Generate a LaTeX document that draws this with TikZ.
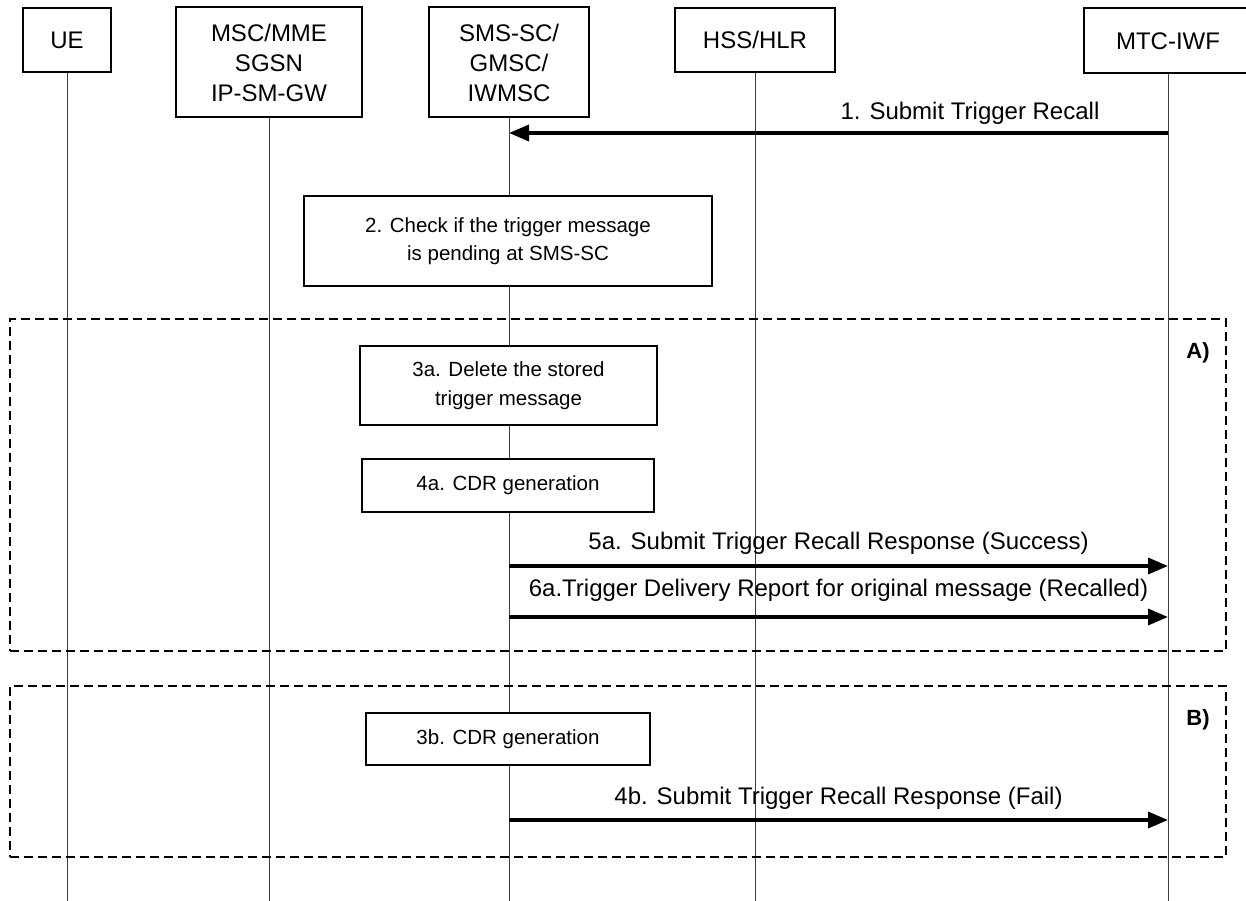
\documentclass[tikz,border=0pt]{standalone}
\usepackage{fontspec}
\setmainfont{Liberation Sans}
\usetikzlibrary{arrows.meta,calc}
\begin{document}
\begin{tikzpicture}[x=1pt,y=-1pt,
  hdr/.style={draw,line width=2pt,align=center,inner sep=0pt,font=\fontsize{24}{30}\selectfont},
  actbox/.style={draw,line width=2pt,align=center,inner sep=0pt,font=\fontsize{20.5}{28.5}\selectfont},
  life/.style={line width=1pt,draw=black!75},
  msg/.style={line width=3.5pt,-{Triangle[length=20pt,width=16pt]}},
  lbl/.style={font=\fontsize{24}{28}\selectfont,inner sep=0pt},
  frame/.style={draw,line width=2pt,dash pattern=on 9pt off 5pt},
  tag/.style={font=\bfseries\fontsize{22}{26}\selectfont,inner sep=0pt}]
\useasboundingbox (0,0) rectangle (1246,901);
% headers
\node[hdr,minimum width=88pt,minimum height=64pt] (ue) at (67,40) {UE};
\node[hdr,minimum width=186pt,minimum height=110pt] (msc) at (269,62.5) {MSC/MME\\SGSN\\IP-SM-GW};
\node[hdr,minimum width=160pt,minimum height=110pt] (sms) at (509,62.5) {SMS-SC/\\GMSC/\\IWMSC};
\node[hdr,minimum width=160pt,minimum height=64pt] (hss) at (755,40) {HSS/HLR};
\node[hdr,minimum width=168pt,minimum height=65pt] (mtc) at (1168,41) {MTC-IWF};
% lifeline ends
\coordinate (ueE) at (67,901);
\coordinate (mscE) at (269,901);
\coordinate (smsE) at (509,901);
\coordinate (hssE) at (755,901);
\coordinate (mtcE) at (1168,901);
\draw[life] (ue.south) -- (ueE);
\draw[life] (msc.south) -- (mscE);
\draw[life] (sms.south) -- (smsE);
\draw[life] (hss.south) -- (hssE);
\draw[life] (mtc.south) -- (mtcE);
% frames
\node[frame,minimum width=1216pt,minimum height=332pt,inner sep=0pt] (frA) at (618,485) {};
\node[frame,minimum width=1216pt,minimum height=171pt,inner sep=0pt] (frB) at (618,771.5) {};
\node[tag] (tA) at (1198,353) {A)};
\node[tag] (tB) at (1198,720) {B)};
% step 1
\draw[msg] (mtc |- 0,133) -- (sms |- 0,133);
\node[lbl] (l1) at (970,113) {1. Submit Trigger Recall};
% step 2
\node[actbox,fill=white,minimum width=408pt,minimum height=90pt] (s2) at (508,241) {2. Check if the trigger message\\is pending at SMS-SC};
% A
\node[actbox,fill=white,minimum width=297pt,minimum height=79pt] (s3a) at (508.5,385.5) {3a. Delete the stored\\trigger message};
\node[actbox,fill=white,minimum width=292pt,minimum height=53pt] (s4a) at (508,485.5) {4a. CDR generation};
\draw[msg] (sms |- 0,566) -- node[lbl,yshift=23pt] (l5a) {5a. Submit Trigger Recall Response (Success)} (mtc |- 0,566);
\draw[msg] (sms |- 0,617) -- node[lbl,yshift=27pt] (l6a) {6a.Trigger Delivery Report for original message (Recalled)} (mtc |- 0,617);
% B
\node[actbox,fill=white,minimum width=284pt,minimum height=52pt] (s3b) at (508,739) {3b. CDR generation};
\draw[msg] (sms |- 0,820) -- node[lbl,yshift=22pt] (l4b) {4b. Submit Trigger Recall Response (Fail)} (mtc |- 0,820);
\end{tikzpicture}
\end{document}
